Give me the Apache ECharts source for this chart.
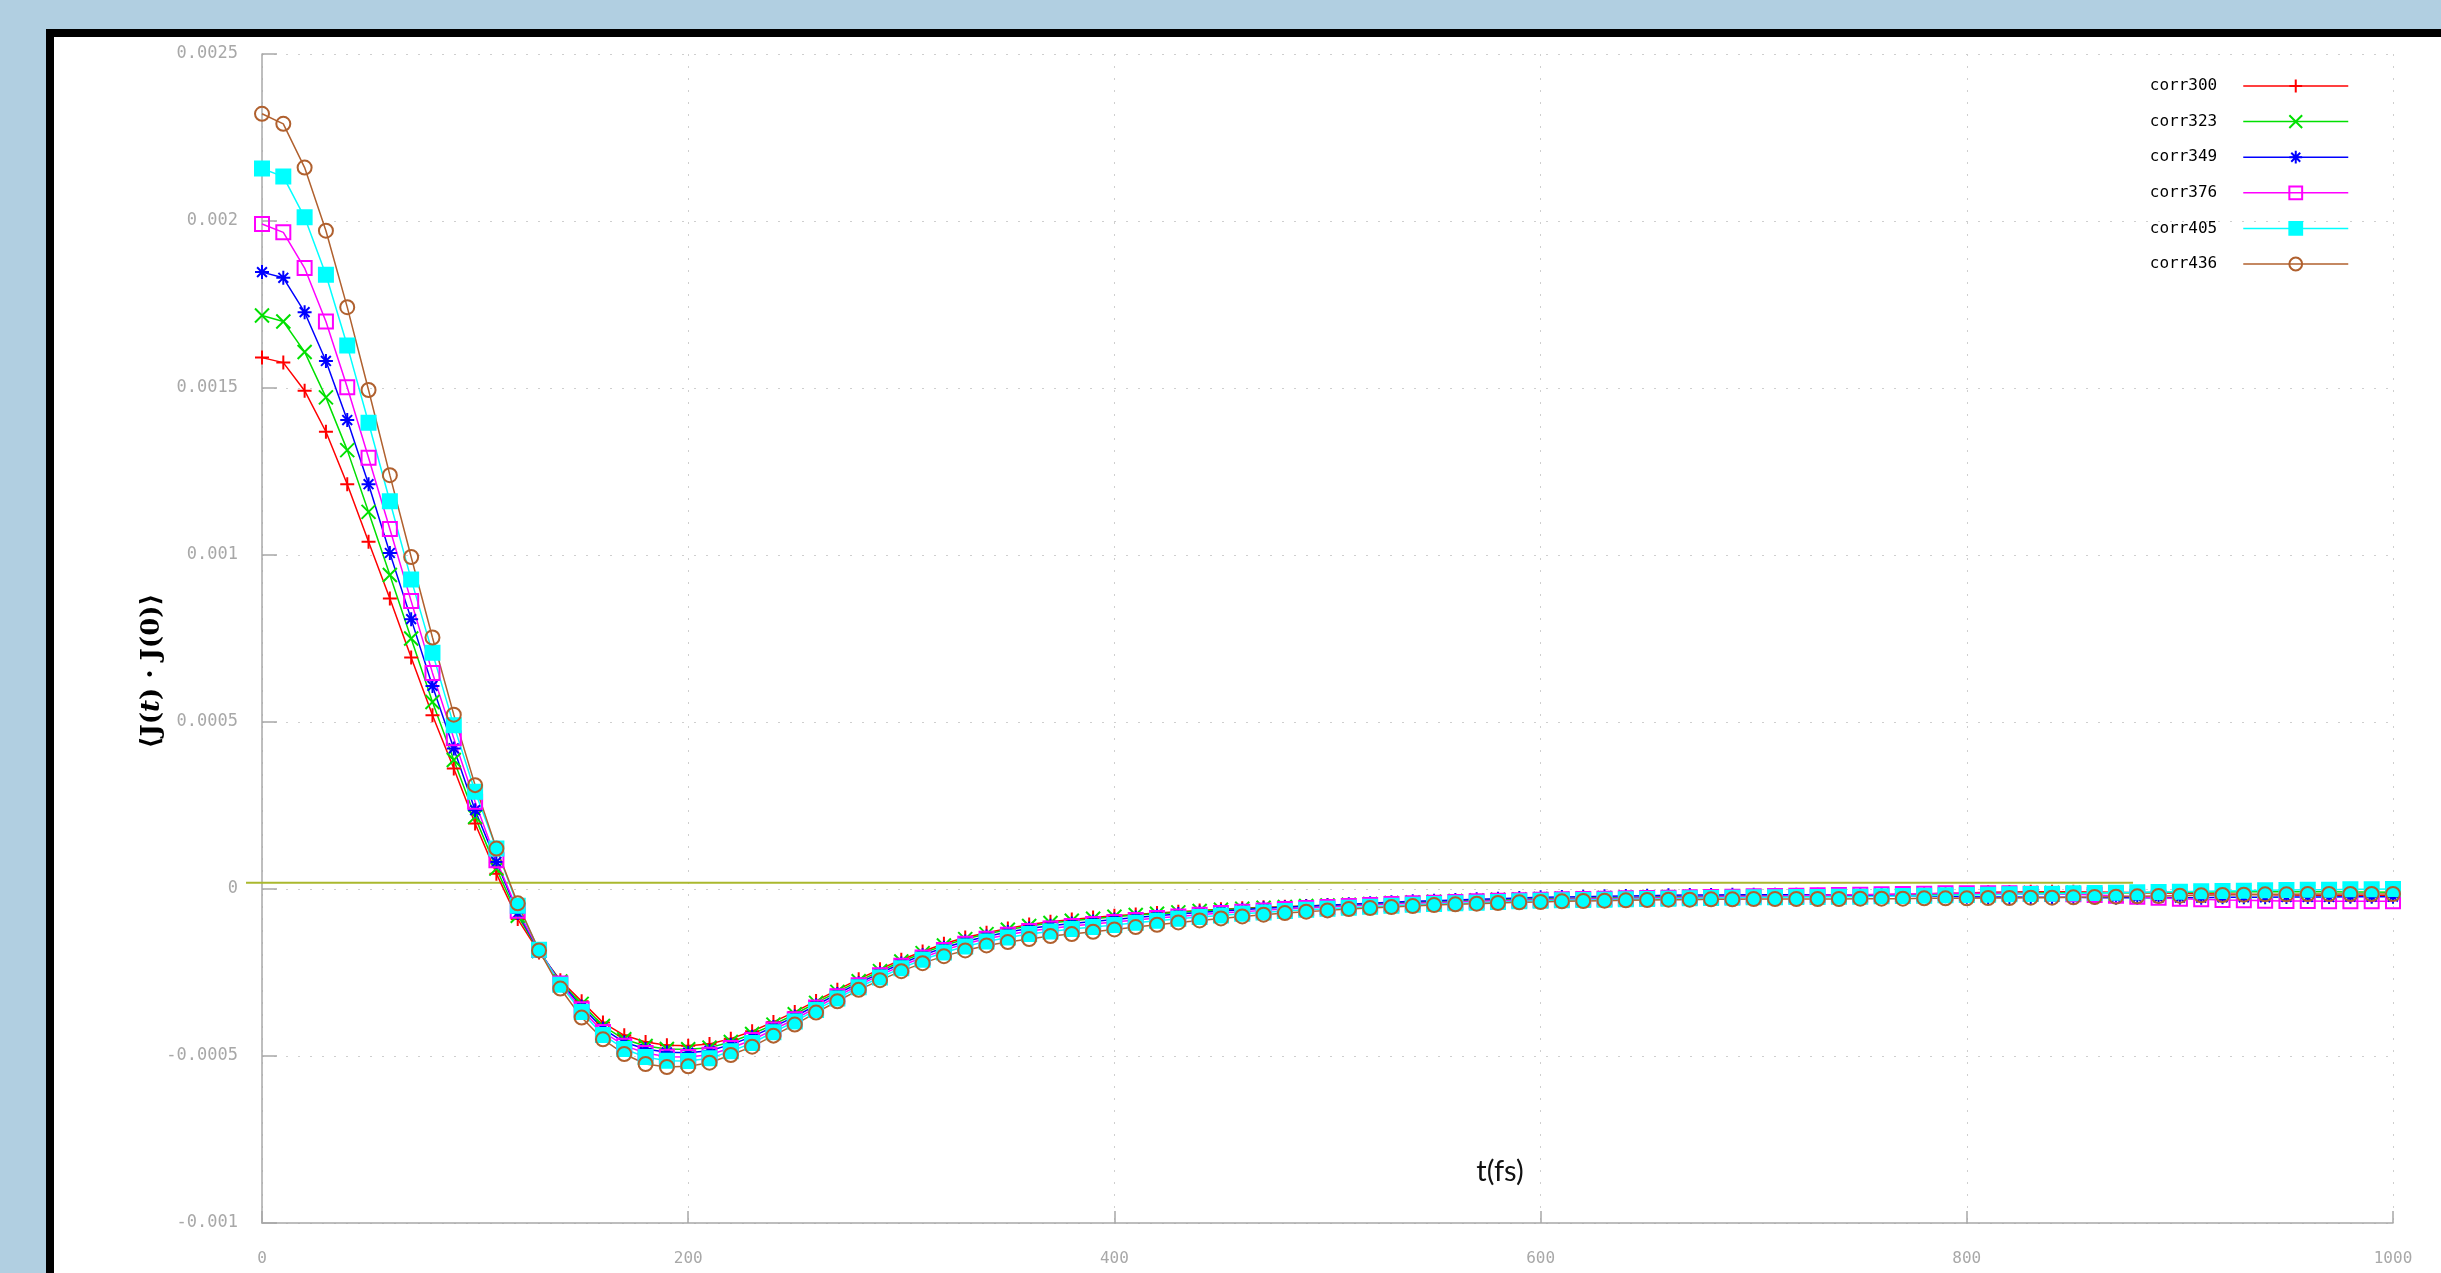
<!DOCTYPE html>
<html>
<head>
<meta charset="utf-8">
<script src="https://cdn.jsdelivr.net/npm/echarts@6/dist/echarts.min.js"></script>
<style>
  html, body { margin: 0; padding: 0; width: 2441px; height: 1273px; overflow: hidden; background: #b1cfe1; }
  #panel { position: absolute; left: 46px; top: 29px; width: 2395px; height: 1244px; box-sizing: border-box;
           border-left: 8px solid #000; border-top: 8px solid #000; background: #fff; }
  #chart { position: absolute; left: 0; top: 0; width: 2441px; height: 1273px; }
</style>
</head>
<body>
<div id="panel"></div>
<div id="chart"></div>
<script>
// time in fs
const times = [0,10,20,30,40,50,60,70,80,90,100,110,120,130,140,150,160,170,180,190,200,
  210,220,230,240,250,260,270,280,290,300,310,320,330,340,350,360,370,380,390,400,
  410,420,430,440,450,460,470,480,490,500,510,520,530,540,550,560,570,580,590,600,
  610,620,630,640,650,660,670,680,690,700,710,720,730,740,750,760,770,780,790,800,
  810,820,830,840,850,860,870,880,890,900,910,920,930,940,950,960,970,980,990,1000];

// correlation values, in units of 1e-3
const corr300 = [1.591,1.576,1.492,1.369,1.212,1.040,0.870,0.693,0.520,0.361,0.196,0.046,-0.090,
  -0.190,-0.273,-0.336,-0.400,-0.438,-0.458,-0.468,-0.469,-0.464,-0.448,-0.426,-0.398,-0.368,-0.335,-0.302,-0.270,-0.240,-0.212,-0.187,-0.164,-0.145,-0.131,-0.118,-0.106,-0.098,-0.091,-0.085,
  -0.080,-0.076,-0.072,-0.068,-0.064,-0.061,-0.058,-0.055,-0.053,-0.051,
  -0.049,-0.047,-0.045,-0.043,-0.041,-0.039,-0.037,-0.035,-0.033,-0.032,
  -0.030,-0.029,-0.028,-0.027,-0.026,-0.025,-0.024,-0.023,-0.022,-0.021,
  -0.021,-0.020,-0.020,-0.019,-0.019,-0.018,-0.017,-0.016,-0.015,-0.013,
  -0.012,-0.010,-0.009,-0.008,-0.008,-0.008,-0.009,-0.010,-0.011,-0.012,
  -0.013,-0.014,-0.015,-0.016,-0.017,-0.018,-0.019,-0.019,-0.020,-0.020,-0.020];
const corr323 = [1.717,1.699,1.608,1.472,1.314,1.129,0.940,0.750,0.560,0.386,0.216,0.061,-0.080,
  -0.186,-0.277,-0.344,-0.410,-0.450,-0.470,-0.479,-0.480,-0.475,-0.458,-0.434,-0.406,-0.375,-0.341,-0.308,-0.276,-0.246,-0.217,-0.192,-0.169,-0.150,-0.135,-0.122,-0.111,-0.102,-0.095,-0.089,
  -0.083,-0.078,-0.074,-0.070,-0.066,-0.062,-0.059,-0.056,-0.054,-0.051,
  -0.049,-0.047,-0.045,-0.042,-0.040,-0.038,-0.036,-0.034,-0.032,-0.031,
  -0.030,-0.029,-0.028,-0.027,-0.026,-0.025,-0.024,-0.024,-0.023,-0.023,
  -0.022,-0.022,-0.021,-0.021,-0.020,-0.020,-0.019,-0.018,-0.017,-0.016,
  -0.015,-0.014,-0.013,-0.012,-0.012,-0.011,-0.011,-0.011,-0.011,-0.010,
  -0.010,-0.009,-0.009,-0.008,-0.008,-0.008,-0.008,-0.008,-0.009,-0.009,-0.010];
const corr349 = [1.847,1.830,1.727,1.581,1.404,1.212,1.006,0.808,0.608,0.421,0.236,0.081,-0.072,
  -0.184,-0.280,-0.352,-0.418,-0.459,-0.479,-0.489,-0.490,-0.484,-0.466,-0.442,-0.413,-0.382,-0.348,-0.314,-0.282,-0.252,-0.223,-0.198,-0.176,-0.157,-0.142,-0.129,-0.118,-0.110,-0.103,-0.097,
  -0.091,-0.085,-0.080,-0.075,-0.070,-0.066,-0.062,-0.058,-0.055,-0.052,
  -0.049,-0.046,-0.043,-0.040,-0.037,-0.035,-0.033,-0.031,-0.029,-0.027,
  -0.025,-0.024,-0.023,-0.022,-0.021,-0.020,-0.019,-0.018,-0.018,-0.017,
  -0.017,-0.017,-0.017,-0.017,-0.018,-0.018,-0.019,-0.020,-0.021,-0.022,
  -0.023,-0.024,-0.024,-0.025,-0.025,-0.025,-0.026,-0.026,-0.026,-0.026,
  -0.026,-0.026,-0.025,-0.025,-0.025,-0.024,-0.024,-0.024,-0.023,-0.023,-0.023];
const corr376 = [1.991,1.966,1.859,1.699,1.502,1.291,1.078,0.862,0.647,0.451,0.261,0.086,-0.065,
  -0.183,-0.283,-0.360,-0.428,-0.469,-0.491,-0.502,-0.503,-0.496,-0.476,-0.452,-0.421,-0.390,-0.355,-0.321,-0.288,-0.258,-0.230,-0.205,-0.183,-0.164,-0.149,-0.137,-0.126,-0.118,-0.111,-0.105,
  -0.099,-0.093,-0.087,-0.082,-0.077,-0.072,-0.068,-0.064,-0.060,-0.057,
  -0.054,-0.051,-0.048,-0.045,-0.043,-0.041,-0.039,-0.037,-0.035,-0.034,
  -0.032,-0.031,-0.030,-0.029,-0.028,-0.027,-0.026,-0.025,-0.024,-0.023,
  -0.022,-0.021,-0.020,-0.019,-0.018,-0.017,-0.016,-0.015,-0.014,-0.013,
  -0.013,-0.013,-0.013,-0.014,-0.015,-0.016,-0.018,-0.020,-0.023,-0.026,
  -0.029,-0.031,-0.033,-0.034,-0.035,-0.036,-0.036,-0.037,-0.037,-0.037,-0.037];
const corr405 = [2.157,2.133,2.011,1.839,1.627,1.396,1.161,0.927,0.707,0.490,0.291,0.121,-0.050,
  -0.182,-0.287,-0.368,-0.437,-0.479,-0.503,-0.514,-0.515,-0.507,-0.486,-0.461,-0.429,-0.397,-0.362,-0.328,-0.294,-0.265,-0.237,-0.212,-0.190,-0.172,-0.157,-0.145,-0.135,-0.127,-0.120,-0.114,
  -0.108,-0.101,-0.095,-0.089,-0.084,-0.079,-0.074,-0.070,-0.066,-0.062,
  -0.059,-0.056,-0.053,-0.050,-0.047,-0.045,-0.043,-0.041,-0.039,-0.037,
  -0.035,-0.034,-0.033,-0.032,-0.031,-0.030,-0.029,-0.028,-0.027,-0.026,
  -0.025,-0.025,-0.024,-0.024,-0.023,-0.023,-0.022,-0.021,-0.020,-0.019,
  -0.018,-0.017,-0.016,-0.015,-0.014,-0.013,-0.012,-0.011,-0.010,-0.009,
  -0.008,-0.007,-0.006,-0.005,-0.004,-0.003,-0.002,-0.002,-0.001,-0.001,0.000];
const corr436 = [2.321,2.291,2.160,1.971,1.742,1.494,1.239,0.994,0.753,0.522,0.311,0.121,-0.043,
  -0.184,-0.298,-0.385,-0.450,-0.494,-0.524,-0.533,-0.531,-0.520,-0.497,-0.472,-0.439,-0.406,-0.370,-0.336,-0.302,-0.273,-0.246,-0.222,-0.201,-0.184,-0.169,-0.159,-0.150,-0.141,-0.135,-0.128,
  -0.121,-0.114,-0.107,-0.100,-0.094,-0.088,-0.082,-0.077,-0.072,-0.068,
  -0.064,-0.060,-0.057,-0.054,-0.051,-0.048,-0.046,-0.044,-0.042,-0.040,
  -0.039,-0.037,-0.036,-0.035,-0.034,-0.033,-0.032,-0.032,-0.031,-0.031,
  -0.030,-0.030,-0.030,-0.030,-0.030,-0.029,-0.029,-0.029,-0.028,-0.028,
  -0.028,-0.027,-0.027,-0.026,-0.026,-0.025,-0.024,-0.023,-0.022,-0.021,
  -0.020,-0.019,-0.018,-0.017,-0.016,-0.016,-0.015,-0.015,-0.015,-0.015,-0.015];

// olive reference line drawn on the slide (t range, value in 1e-3)
const refLineT = [-7.5, 878];
const refLineV = [0.019, 0.019];

const seriesNames = ['corr300','corr323','corr349','corr376','corr405','corr436'];
const seriesValues = [corr300, corr323, corr349, corr376, corr405, corr436];
const seriesColors = ['#ff0000','#00e000','#0000ff','#ff00ff','#00ffff','#b0602e'];
const seriesSymbols = [
  'path://M0,5L10,5M5,0L5,10',
  'path://M0,0L10,10M0,10L10,0',
  'path://M0,5L10,5M5,0L5,10M1.5,1.5L8.5,8.5M1.5,8.5L8.5,1.5',
  'path://M0,0L10,0L10,10L0,10Z',
  'rect',
  'path://M10,5A5,5,0,1,1,0,5A5,5,0,1,1,10,5Z'
];
const seriesFills = ['#ff0000','#00e000','#0000ff','rgba(0,0,0,0)','#00ffff','rgba(0,0,0,0)'];
const xTicks = [0, 200, 400, 600, 800, 1000];

const chart = echarts.init(document.getElementById('chart'), null, {renderer: 'canvas'});

const tickFont = 'DejaVu Sans Mono';
const series = [];
seriesNames.forEach((n, k) => {
  series.push({
    name: n, type: 'line', clip: false,
    data: times.map((t, i) => [t, seriesValues[k][i]]),
    symbol: seriesSymbols[k], symbolSize: 14, showAllSymbol: true,
    lineStyle: {color: seriesColors[k], width: 1.5},
    itemStyle: {color: seriesFills[k], borderColor: seriesColors[k], borderWidth: 2},
    emphasis: {disabled: true}, z: 2
  });
});

chart.setOption({
  animation: false,
  backgroundColor: 'transparent',
  grid: {left: 262, right: 48, top: 54, bottom: 50, containLabel: false},
  legend: {
    orient: 'vertical', right: 87, top: 73, align: 'right',
    itemWidth: 105, itemHeight: 16, itemGap: 19.6, selectedMode: false,
    textStyle: {fontFamily: tickFont, fontSize: 16, color: '#000', padding: [0, 21, 0, 0]},
    data: seriesNames.map((n, k) => ({
      name: n,
      itemStyle: {color: seriesFills[k], borderColor: seriesColors[k], borderWidth: 2},
      lineStyle: {color: seriesColors[k], width: 1.5}
    }))
  },
  xAxis: {
    type: 'value', min: 0, max: 1000, interval: 200,
    axisLine: {show: true, onZero: false, lineStyle: {color: '#a8a8a8', width: 1.5}},
    axisTick: {show: true, inside: true, length: 12, lineStyle: {color: '#a8a8a8', width: 1.5}},
    axisLabel: {show: true, margin: 28, fontFamily: tickFont, fontSize: 16, color: '#a8a8a8',
      formatter: v => String(v)},
    splitLine: {show: true, lineStyle: {color: '#cfcfcf', type: [2, 10], width: 1}}
  },
  yAxis: {
    type: 'value', min: -1, max: 2.5, interval: 0.5,
    axisLine: {show: true, lineStyle: {color: '#a8a8a8', width: 1.5}},
    axisTick: {show: true, inside: true, length: 15, lineStyle: {color: '#a8a8a8', width: 1.5}},
    axisLabel: {show: true, margin: 24, fontFamily: tickFont, fontSize: 17, color: '#a8a8a8',
      formatter: v => String(parseFloat((v / 1000).toPrecision(6)))},
    splitLine: {show: true, lineStyle: {color: '#cfcfcf', type: [2, 10], width: 1}}
  },
  series: series
});

// olive line on the slide, placed through the chart's own scales
const p0 = chart.convertToPixel({gridIndex: 0}, [refLineT[0], refLineV[0]]);
const p1 = chart.convertToPixel({gridIndex: 0}, [refLineT[1], refLineV[1]]);
chart.setOption({
  graphic: [
    {type: 'line', z: 1, silent: true, shape: {x1: p0[0], y1: p0[1], x2: p1[0], y2: p1[1]},
      style: {stroke: '#aab82e', lineWidth: 2}},
    {type: 'text', x: 1500, y: 1172, style: {text: 't(fs)', fontFamily: 'Lato', fontSize: 29,
      fill: '#111', align: 'center', verticalAlign: 'middle'}},
    {type: 'text', x: 152, y: 671, rotation: Math.PI / 2,
      style: {text: '{a|⟨J(}{b|t}{a|) · J(0)⟩}', align: 'center', verticalAlign: 'middle',
        rich: {
          a: {fontFamily: 'DejaVu Serif', fontWeight: 'bold', fontSize: 26, fill: '#000'},
          b: {fontFamily: 'DejaVu Serif', fontWeight: 'bold', fontStyle: 'italic', fontSize: 26, fill: '#000'}
        }}}
  ]
});
</script>
</body>
</html>
